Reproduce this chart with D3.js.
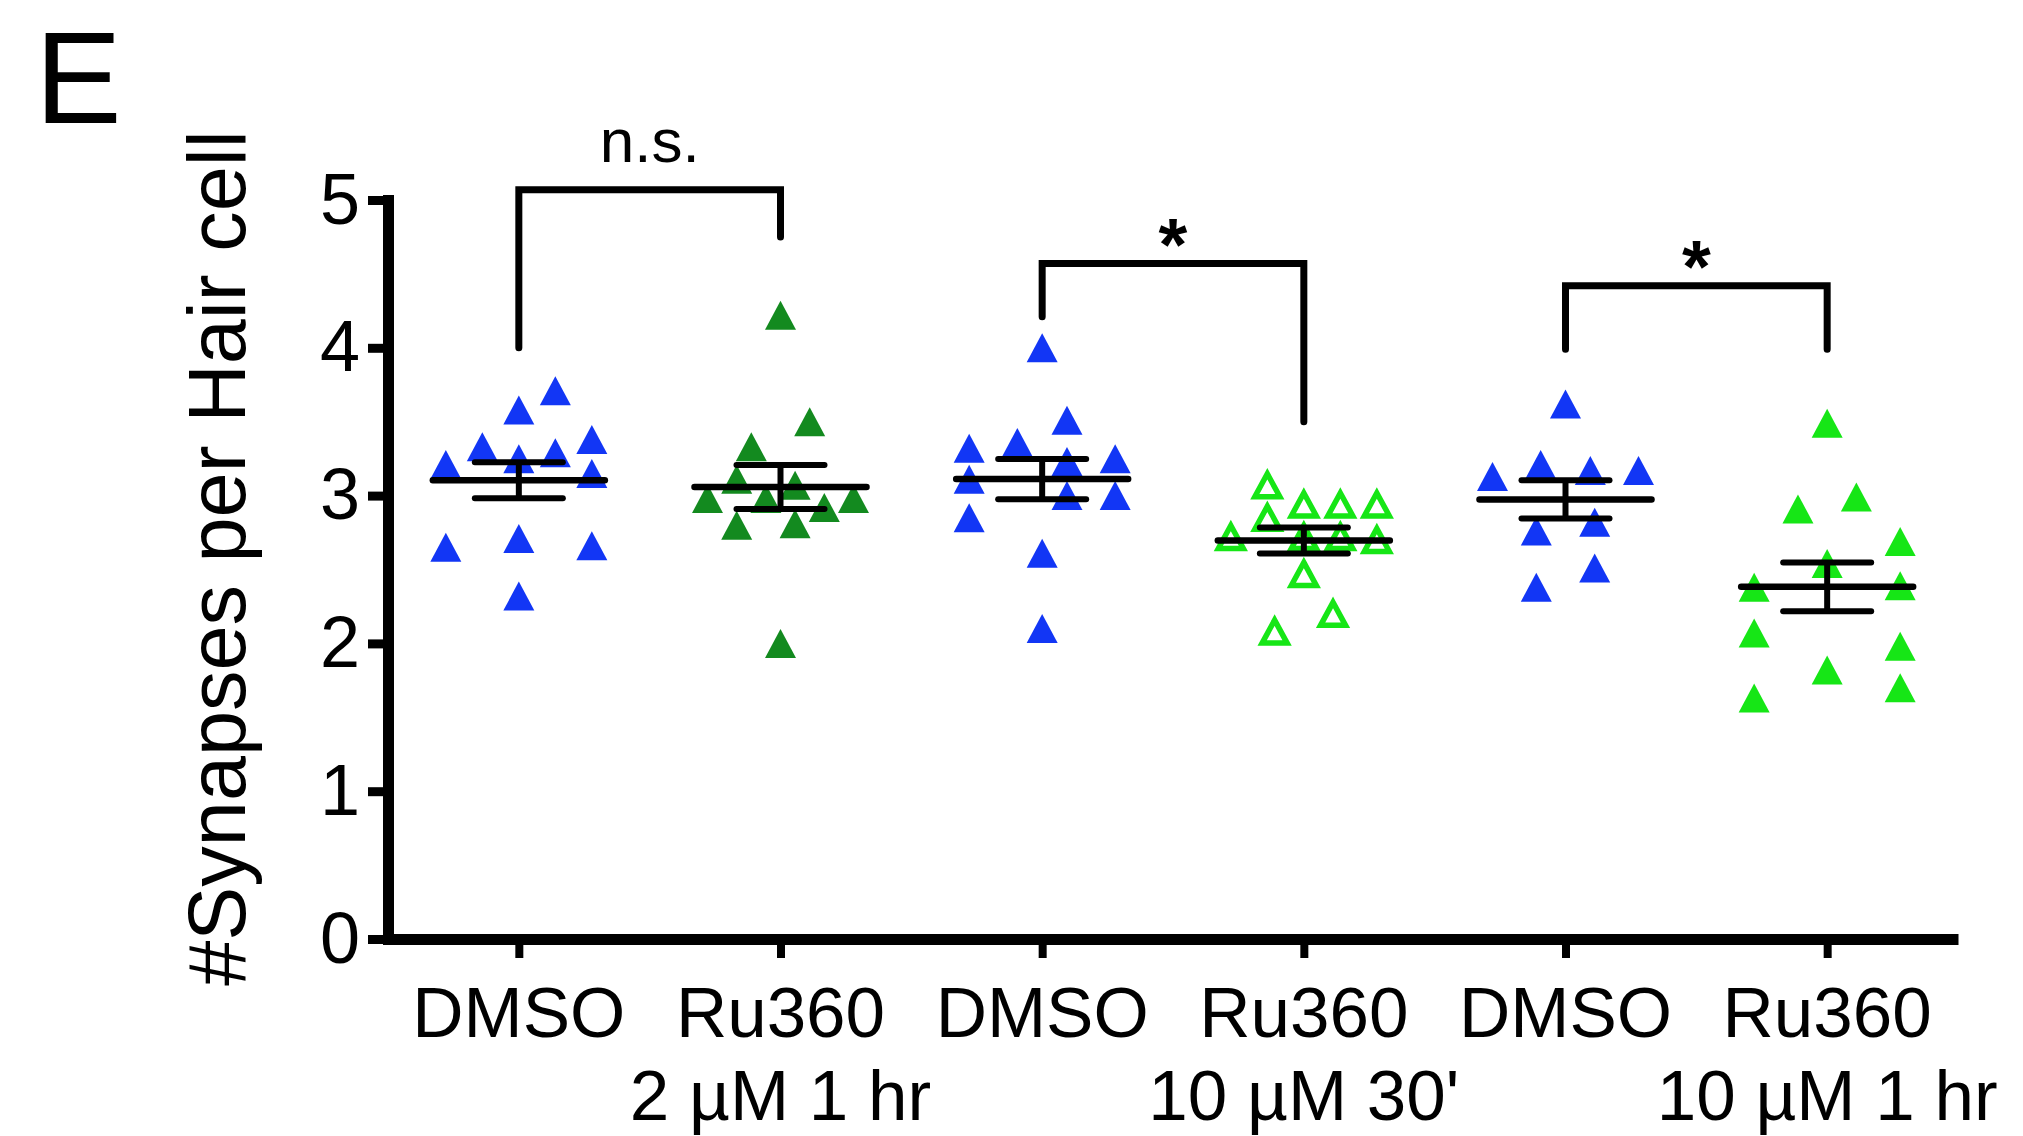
<!DOCTYPE html>
<html>
<head>
<meta charset="utf-8">
<script src="https://cdn.jsdelivr.net/npm/d3@7"></script>
<style>
  html, body { margin: 0; padding: 0; background: #ffffff; }
  svg { display: block; }
  text { font-family: "Liberation Sans", Arial, Helvetica, sans-serif; fill: #000; }
</style>
</head>
<body>
<script>
// ---------- DATA ----------
const categoryLine1 = ["DMSO", "Ru360", "DMSO", "Ru360", "DMSO", "Ru360"];
const categoryLine2 = ["", "2 µM 1 hr", "", "10 µM 30'", "", "10 µM 1 hr"];
const yTicks = [0, 1, 2, 3, 4, 5];
const yTitle = "#Synapses per Hair cell";
const panelLetter = "E";

// synapse counts per hair cell (one array per group)
const dmso2uM    = [3.71, 3.58, 3.33, 3.38, 3.29, 3.25, 3.21, 3.15, 2.65, 2.71, 2.66, 2.32];
const ru360_2uM  = [4.22, 3.50, 3.33, 3.07, 3.11, 2.98, 2.98, 2.98, 2.92, 2.80, 2.81, 2.00];
const dmso30min  = [4.00, 3.51, 3.36, 3.32, 3.25, 3.23, 3.11, 3.00, 3.00, 2.85, 2.61, 2.10];
const ru360_30m  = [3.07, 2.94, 2.94, 2.94, 2.85, 2.72, 2.72, 2.72, 2.70, 2.47, 2.20, 2.08];
const dmso1hr    = [3.62, 3.21, 3.17, 3.17, 3.13, 2.82, 2.76, 2.51, 2.38];
const ru360_1hr  = [3.49, 2.99, 2.91, 2.69, 2.54, 2.38, 2.39, 2.07, 1.98, 1.82, 1.70, 1.63];

// scatter column slot of each point (GraphPad-style spread, in slot units)
const slots1 = [2.5, 0, -2.5, 5, 2.5, 0, -5, 5, -5, 0, 5, 0];
const slots2 = [0, 2, -2, 1, -3, -5, -1, 5, 3, -3, 1, 0];
const slots3 = [0, 1.7, -1.7, -5, 5, 1.7, -5, 1.7, 5, -5, 0, 0];
const slots4 = [-2.5, 0, 2.5, 5, -2.5, -5, 0, 2.5, 5, 0, 2, -2];
const slots5 = [0, -1.7, 1.7, 5, -5, 2, -2, 2, -2];
const slots6 = [0, 2, -2, 5, 0, -5, 5, -5, 5, 0, 5, -5];

const groupValues = [dmso2uM, ru360_2uM, dmso30min, ru360_30m, dmso1hr, ru360_1hr];
const groupSlots  = [slots1, slots2, slots3, slots4, slots5, slots6];
const groupColors = ["#1236f5", "#138a1f", "#1236f5", "#16e616", "#1236f5", "#16e616"];
const groupOpen   = [false, false, false, true, false, false];

// significance brackets (values in data units)
const bracketPairs    = [[0, 1], [2, 3], [4, 5]];
const bracketTop      = [5.07, 4.57, 4.42];
const bracketLeftEnd  = [4.00, 4.21, 3.99];
const bracketRightEnd = [4.75, 3.50, 3.99];
const bracketLabels   = ["n.s.", "*", "*"];

// ---------- CHART ----------
const W = 2023, H = 1136;
const svg = d3.select("body").append("svg")
  .attr("width", W).attr("height", H)
  .attr("viewBox", `0 0 ${W} ${H}`);

const x = d3.scalePoint().domain(d3.range(categoryLine1.length)).range([388, 1958]).padding(0.5);
const y = d3.scaleLinear().domain([0, 5]).range([939, 200]);
const slotScale = d3.scaleLinear().domain([-5, 5]).range([-73, 73]);

// panel letter
svg.append("text").attr("x", 35).attr("y", 123)
  .attr("font-size", 130).text(panelLetter);

// y axis title
svg.append("text")
  .attr("transform", `translate(245, ${(135 + 981) / 2}) rotate(-90)`)
  .attr("text-anchor", "middle")
  .attr("font-size", 81)
  .text(yTitle);

// points
const triFilled = "M0,-14.5L15.5,14.5L-15.5,14.5Z";
const triOpen = "M0,-11.5L12.5,11.5L-12.5,11.5Z";
const pts = [];
groupValues.forEach((vals, g) => vals.forEach((v, i) => pts.push({ g, v, s: groupSlots[g][i] })));

svg.append("g").selectAll("path")
  .data(pts)
  .join("path")
  .attr("transform", d => `translate(${x(d.g) + slotScale(d.s)},${y(d.v)})`)
  .attr("d", d => groupOpen[d.g] ? triOpen : triFilled)
  .attr("fill", d => groupOpen[d.g] ? "none" : groupColors[d.g])
  .attr("stroke", d => groupOpen[d.g] ? groupColors[d.g] : "none")
  .attr("stroke-width", d => groupOpen[d.g] ? 5.5 : 0)
  .attr("stroke-linejoin", "miter");

// mean ± SEM
const stats = groupValues.map((vals, g) => {
  const m = d3.mean(vals);
  const sem = d3.deviation(vals) / Math.sqrt(vals.length);
  return { g, m, sem };
});
const eb = svg.append("g").attr("stroke", "#000").attr("fill", "none");
stats.forEach(s => {
  const cx = x(s.g);
  eb.append("line").attr("x1", cx - 86).attr("x2", cx + 86)
    .attr("y1", y(s.m)).attr("y2", y(s.m)).attr("stroke-width", 6.5).attr("stroke-linecap", "round");
  eb.append("line").attr("x1", cx).attr("x2", cx)
    .attr("y1", y(s.m - s.sem)).attr("y2", y(s.m + s.sem)).attr("stroke-width", 6);
  [s.m - s.sem, s.m + s.sem].forEach(v => {
    eb.append("line").attr("x1", cx - 44).attr("x2", cx + 44)
      .attr("y1", y(v)).attr("y2", y(v)).attr("stroke-width", 6).attr("stroke-linecap", "round");
  });
});

// brackets
const br = svg.append("g");
bracketPairs.forEach((p, i) => {
  const x1 = x(p[0]), x2 = x(p[1]);
  const yt = y(bracketTop[i]);
  br.append("path")
    .attr("d", `M${x1},${y(bracketLeftEnd[i])}V${yt}H${x2}V${y(bracketRightEnd[i])}`)
    .attr("fill", "none").attr("stroke", "#000").attr("stroke-width", 7)
    .attr("stroke-linejoin", "miter").attr("stroke-linecap", "round");
  const isStar = bracketLabels[i] === "*";
  br.append("text")
    .attr("x", (x1 + x2) / 2)
    .attr("y", isStar ? yt + 6 : yt - 28)
    .attr("text-anchor", "middle")
    .attr("font-size", isStar ? 74 : 62)
    .attr("font-weight", isStar ? "bold" : null)
    .text(bracketLabels[i]);
});

// y axis
const yAxis = svg.append("g").attr("transform", "translate(388,0)")
  .call(d3.axisLeft(y).tickValues(yTicks).tickFormat(d3.format("d")).tickSize(20).tickSizeOuter(0).tickPadding(8));
yAxis.select(".domain").attr("stroke", "#000").attr("stroke-width", 11).attr("stroke-linecap", "square");
yAxis.selectAll(".tick line").attr("stroke", "#000").attr("stroke-width", 9);
yAxis.selectAll(".tick text").attr("font-size", 72).attr("font-family", null).attr("fill", "#000");

// x axis
const xAxis = svg.append("g").attr("transform", "translate(0,939)")
  .call(d3.axisBottom(x).tickSize(19).tickSizeOuter(0).tickFormat(""));
xAxis.select(".domain").attr("stroke", "#000").attr("stroke-width", 11).attr("stroke-linecap", "butt");
xAxis.selectAll(".tick line").attr("stroke", "#000").attr("stroke-width", 8);
xAxis.selectAll(".tick text").remove();

// category labels
const lab = svg.append("g").attr("text-anchor", "middle").attr("font-size", 71);
categoryLine1.forEach((t, i) => {
  lab.append("text").attr("x", x(i)).attr("y", 1037).text(t);
  if (categoryLine2[i]) lab.append("text").attr("x", x(i)).attr("y", 1120).text(categoryLine2[i]);
});
</script>
</body>
</html>
